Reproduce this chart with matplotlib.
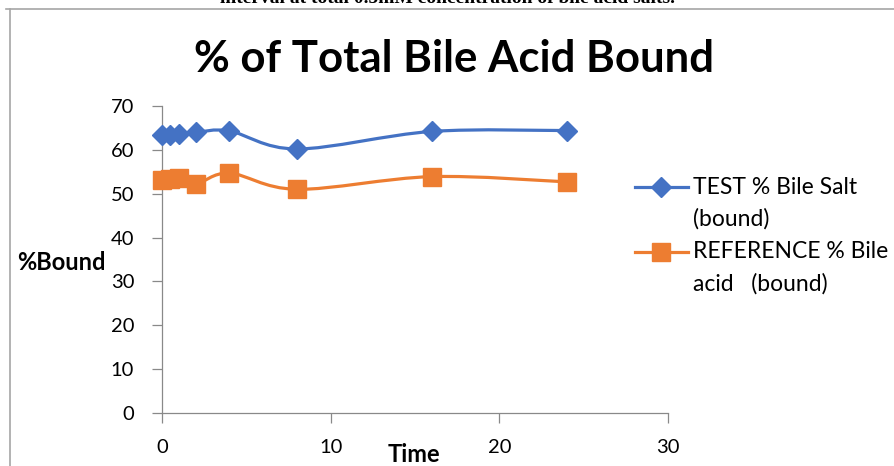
import matplotlib
matplotlib.use("Agg")
import matplotlib.pyplot as plt
from matplotlib.path import Path
from matplotlib.patches import PathPatch
from matplotlib.lines import Line2D

plt.rcParams["font.family"] = ["Lato", "DejaVu Sans"]

# data
time_h = [0, 0.5, 1, 2, 4, 8, 16, 24]
test_bound = [63.4, 63.3, 63.7, 64.0, 64.3, 60.2, 64.2, 64.4]
ref_bound = [53.1, 53.3, 53.5, 52.2, 54.7, 51.0, 53.9, 52.7]

series_labels = [["TEST % Bile Salt", "(bound)"],
                 ["REFERENCE % Bile", "acid   (bound)"]]
series_colors = ["#4472C4", "#ED7D31"]
series_markers = ["D", "s"]
marker_sizes = [10, 12.5]

W, H = 894, 466


def fx(px):
    return px / W


def fy(py):
    return 1 - py / H


def smooth_path(xs, ys):
    # Excel style smoothed line: cubic bezier with catmull-rom control points
    pts = list(zip(xs, ys))
    verts = [pts[0]]
    codes = [Path.MOVETO]
    n = len(pts)
    for i in range(n - 1):
        p0 = pts[i - 1] if i > 0 else pts[i]
        p1 = pts[i]
        p2 = pts[i + 1]
        p3 = pts[i + 2] if i + 2 < n else pts[i + 1]
        c1 = (p1[0] + (p2[0] - p0[0]) / 6, p1[1] + (p2[1] - p0[1]) / 6)
        c2 = (p2[0] - (p3[0] - p1[0]) / 6, p2[1] - (p3[1] - p1[1]) / 6)
        verts += [c1, c2, p2]
        codes += [Path.CURVE4] * 3
    return Path(verts, codes)


fig = plt.figure(figsize=(W / 100, H / 100), dpi=100)

ax = fig.add_axes([fx(162), fy(413), fx(668) - fx(162), fy(106) - fy(413)])

for ys, col, mk, ms in zip([test_bound, ref_bound], series_colors, series_markers, marker_sizes):
    ax.add_patch(PathPatch(smooth_path(time_h, ys), facecolor="none",
                           edgecolor=col, lw=2.3, zorder=2))
    ax.plot(time_h, ys, linestyle="none", marker=mk, ms=ms, color=col, zorder=3,
            clip_on=False)

ax.set_xlim(0, 30)
ax.set_ylim(0, 70)
ax.set_xticks([0, 10, 20, 30])
ax.set_yticks(range(0, 71, 10))
for s in ["top", "right"]:
    ax.spines[s].set_visible(False)
for s in ["left", "bottom"]:
    ax.spines[s].set_color("#898989")
    ax.spines[s].set_linewidth(0.9)
ax.tick_params(axis="both", direction="out", length=7, width=0.9,
               color="#898989", labelsize=14.5, labelcolor="black")
ax.tick_params(axis="y", pad=13)
ax.tick_params(axis="x", pad=12)

# titles and axis labels
fig.text(fx(454), fy(59), "% of Total Bile Acid Bound", ha="center", va="center",
         fontsize=31.5, fontweight="bold")
fig.text(fx(17), fy(263), "%Bound", ha="left", va="center", fontsize=17, fontweight="bold")
fig.text(fx(414), fy(455), "Time", ha="center", va="center", fontsize=17, fontweight="bold")

# caption of the page, cut by the top edge as in the source
fig.text(fx(447), fy(3), "interval at total 0.5mM concentration of bile acid salts.",
         ha="center", va="baseline", fontsize=14, fontweight="bold",
         family="Liberation Serif")

# chart frame
fig.add_artist(Line2D([fx(6), fx(894)], [fy(9), fy(9)], color="#a6a6a6", lw=1.2))
fig.add_artist(Line2D([fx(10), fx(10)], [fy(9), fy(466)], color="#a6a6a6", lw=1.2))

# legend
legend_y = [187, 252]
for (l1, l2), col, mk, ms, ly in zip(series_labels, series_colors, series_markers,
                                     marker_sizes, legend_y):
    fig.add_artist(Line2D([fx(635), fx(688)], [fy(ly), fy(ly)], color=col, lw=2.3))
    fig.add_artist(Line2D([fx(661)], [fy(ly)], marker=mk, ms=ms, color=col,
                          linestyle="none"))
    fig.text(fx(693), fy(ly), l1, ha="left", va="center", fontsize=16.5)
    fig.text(fx(693), fy(ly + 32), l2, ha="left", va="center", fontsize=16.5)

fig.savefig("out.png", dpi=100)
